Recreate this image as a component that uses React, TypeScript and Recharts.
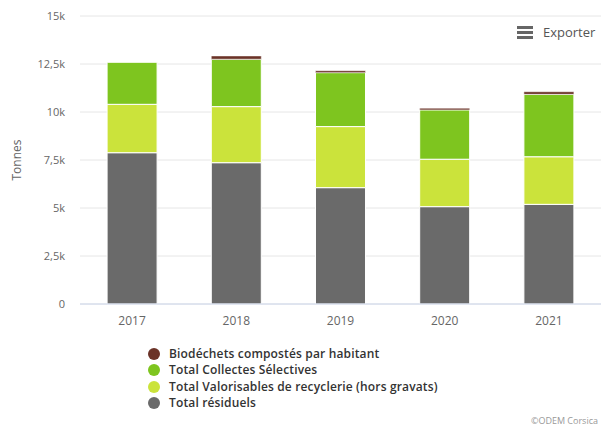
import React from "react";
import { BarChart, Bar, XAxis, YAxis, CartesianGrid } from "recharts";

const years = ["2017", "2018", "2019", "2020", "2021"];
const residuels = [7880, 7360, 6060, 5070, 5190];
const valorisables = [2520, 2920, 3180, 2470, 2480];
const collectes = [2190, 2470, 2810, 2570, 3250];
const biodechets = [0, 170, 100, 90, 135];
const yTicks = [0, 2500, 5000, 7500, 10000, 12500, 15000];

const series = [
  { key: "residuels", name: "Total résiduels", color: "#6a6a6a" },
  { key: "valorisables", name: "Total Valorisables de recyclerie (hors gravats)", color: "#cbe33b" },
  { key: "collectes", name: "Total Collectes Sélectives", color: "#7ec51f" },
  { key: "biodechets", name: "Biodéchets compostés par habitant", color: "#6b3328" },
];

const data = years.map((y, i) => ({
  year: y,
  residuels: residuels[i],
  valorisables: valorisables[i],
  collectes: collectes[i],
  biodechets: biodechets[i],
}));

const FONT = "'Open Sans', 'DejaVu Sans', sans-serif";

const fmt = (v: number) => {
  if (v === 0) return "0";
  const k = v / 1000;
  return String(k).replace(".", ",") + "k";
};

const TonnesLabel = (props: any) => {
  const vb = props.viewBox || {};
  const cy = vb.y + vb.height / 2;
  const cx = 16;
  return (
    <text
      x={cx}
      y={cy}
      transform={`rotate(-90 ${cx} ${cy})`}
      textAnchor="middle"
      dominantBaseline="central"
      fill="#666"
      fontSize={12}
      fontFamily={FONT}
    >
      Tonnes
    </text>
  );
};

export default function App() {
  return (
    <div style={{ position: "absolute", left: 0, top: 0, width: 601, height: 429, background: "#fff", fontFamily: FONT }}>
      <BarChart
        width={601}
        height={429}
        data={data}
        margin={{ top: 16, right: 0, left: 0, bottom: 95 }}
        barCategoryGap="26%"
      >
        <CartesianGrid vertical={false} stroke="#e6e6e6" />
        <XAxis
          dataKey="year"
          height={30}
          tickLine={false}
          axisLine={{ stroke: "#ccd6eb" }}
          tickMargin={6}
          tick={{ fill: "#666", fontSize: 12, fontFamily: FONT }}
        />
        <YAxis
          width={80}
          domain={[0, 15000]}
          ticks={yTicks}
          tickFormatter={fmt}
          axisLine={false}
          tickLine={false}
          tickMargin={9}
          tick={{ fill: "#666", fontSize: 11, fontFamily: FONT }}
          label={<TonnesLabel />}
        />
        {series.map((s) => (
          <Bar
            key={s.key}
            dataKey={s.key}
            name={s.name}
            stackId="a"
            fill={s.color}
            stroke="#fff"
            strokeWidth={s.key === "biodechets" ? 0.5 : 1}
            isAnimationActive={false}
          />
        ))}
      </BarChart>

      <div style={{ position: "absolute", left: 148, top: 346, fontSize: 12, fontWeight: 600, color: "#333", lineHeight: "16.3px", letterSpacing: 0.15 }}>
        {[...series].reverse().map((s) => (
          <div key={s.key} style={{ display: "flex", alignItems: "center", height: 16.3 }}>
            <span
              style={{
                display: "inline-block",
                width: 12,
                height: 12,
                borderRadius: 6,
                background: s.color,
                marginRight: 9,
              }}
            />
            <span>{s.name}</span>
          </div>
        ))}
      </div>

      <div style={{ position: "absolute", left: 517, top: 23, display: "flex", alignItems: "center" }}>
        <div style={{ width: 16, display: "flex", flexDirection: "column", gap: 2 }}>
          <div style={{ height: 3, background: "#666" }} />
          <div style={{ height: 3, background: "#666" }} />
          <div style={{ height: 3, background: "#666" }} />
        </div>
        <span style={{ marginLeft: 10, fontSize: 13, color: "#555" }}>Exporter</span>
      </div>

      <div style={{ position: "absolute", right: 3, top: 414, fontSize: 9, color: "#999" }}>©ODEM Corsica</div>
    </div>
  );
}
